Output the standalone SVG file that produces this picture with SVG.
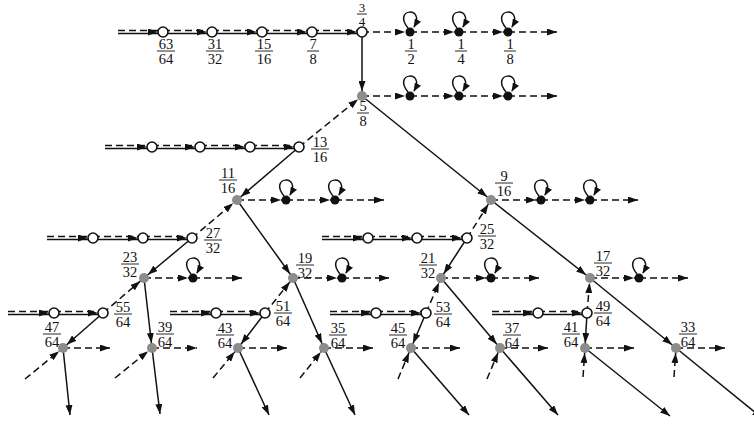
<svg xmlns="http://www.w3.org/2000/svg" width="754" height="424" viewBox="0 0 754 424">
<style>
.s{fill:none;stroke:#111;stroke-width:1.5}
.d{fill:none;stroke:#111;stroke-width:1.5;stroke-dasharray:7,4}
.o{fill:#fff;stroke:#111;stroke-width:1.6}
.g{fill:#8c8c8c}
.b{fill:#111}
.f text{font-family:"Liberation Serif",serif;font-size:14.5px;fill:#111;text-anchor:middle}
.f line{stroke:#111;stroke-width:0.9}
</style>
<defs>
<marker id="a" viewBox="0 0 10 7" refX="15" refY="3.5" markerWidth="10" markerHeight="7" markerUnits="userSpaceOnUse" orient="auto"><path d="M0,0L10,3.5L0,7z" fill="#111"/></marker>
<marker id="e" viewBox="0 0 10 7" refX="10" refY="3.5" markerWidth="10" markerHeight="7" markerUnits="userSpaceOnUse" orient="auto"><path d="M0,0L10,3.5L0,7z" fill="#111"/></marker>
<marker id="m" viewBox="0 0 10 7" refX="15" refY="2" markerWidth="10" markerHeight="7" markerUnits="userSpaceOnUse" orient="auto"><path d="M0,0L10,3.5L0,7z" fill="#111"/></marker>
<marker id="l" viewBox="0 0 9 7" refX="8" refY="3.5" markerWidth="9" markerHeight="7" markerUnits="userSpaceOnUse" orient="auto"><path d="M0,0L9,3.5L0,7z" fill="#111"/></marker>
</defs>

<g id="connectors">
<path class="s" d="M118,33.5H362M105,148.5H299M47,239.5H192M8,314.5H103M170,314.5H265M322,239.5H467M330,314.5H426M492,314.5H587"/>
<g class="d" marker-end="url(#m)">
<path d="M118,30.5H163"/><path d="M163,30.5H212"/><path d="M212,30.5H262"/><path d="M262,30.5H312"/><path d="M312,30.5H362"/>
<path d="M105,145.5H152"/><path d="M152,145.5H200"/><path d="M200,145.5H250"/><path d="M250,145.5H299"/>
<path d="M47,236.5H93"/><path d="M93,236.5H143"/><path d="M143,236.5H192"/>
<path d="M8,311.5H54"/><path d="M54,311.5H103"/>
<path d="M170,311.5H216"/><path d="M216,311.5H265"/>
<path d="M322,236.5H368"/><path d="M368,236.5H417"/><path d="M417,236.5H467"/>
<path d="M330,311.5H376"/><path d="M376,311.5H426"/>
<path d="M492,311.5H538"/><path d="M538,311.5H587"/>
</g>
<g class="d" marker-end="url(#a)">
<path d="M362,32H410"/><path d="M410,32H459"/><path d="M459,32H508"/>
<path d="M362,96H410"/><path d="M410,96H459"/><path d="M459,96H508"/>
<path d="M237,200H286"/><path d="M286,200H335"/>
<path d="M491,200H541"/><path d="M541,200H590"/>
<path d="M144,278H193"/>
<path d="M293,278H342"/>
<path d="M441,278H491"/>
<path d="M590,278H639"/>
</g>
<g class="d" marker-end="url(#e)">
<path d="M508,32H557"/><path d="M508,96H557"/>
<path d="M335,200H384"/><path d="M590,200H638"/>
<path d="M193,278H242"/><path d="M342,278H389"/><path d="M491,278H539"/><path d="M639,278H688"/>
<path d="M63,348H110"/><path d="M152,348H197"/><path d="M238,348H287"/><path d="M324,348H373"/>
<path d="M411,348H460"/><path d="M500,348H548"/><path d="M585,348H634"/><path d="M676,348H725"/>
</g>
<g class="d" marker-end="url(#a)">
<path d="M299,147L362,96"/>
<path d="M192,238L237,200"/>
<path d="M103,313L144,278"/>
<path d="M265,313L293,278"/>
<path d="M467,238L491,200"/>
<path d="M426,313L441,278"/>
<path d="M587,313L590,278"/>
<path d="M25,379L63,348"/>
<path d="M115,378L152,348"/>
<path d="M213,378L238,348"/>
<path d="M300,378L324,348"/>
<path d="M398,379L411,348"/>
<path d="M487,379L500,348"/>
<path d="M583,377L585,348"/>
<path d="M674,377L676,348"/>
</g>
<g class="s" marker-end="url(#a)">
<path d="M362,32V96"/>
<path d="M362,96L491,200"/>
<path d="M299,147L237,200"/>
<path d="M237,200L293,278"/>
<path d="M192,238L144,278"/>
<path d="M144,278L152,348"/>
<path d="M103,313L63,348"/>
<path d="M265,313L238,348"/>
<path d="M293,278L324,348"/>
<path d="M467,238L441,278"/>
<path d="M491,200L590,278"/>
<path d="M426,313L411,348"/>
<path d="M441,278L500,348"/>
<path d="M587,313L585,348"/>
<path d="M590,278L676,348"/>
</g>
<g class="s" marker-end="url(#e)">
<path d="M63,348L70,415"/>
<path d="M152,348L160,414"/>
<path d="M238,348L269,415"/>
<path d="M324,348L355,415"/>
<path d="M411,348L469,415"/>
<path d="M500,348L558,415"/>
<path d="M585,348L670,416"/>
<path d="M676,348L762,418"/>
</g>
<g class="s" marker-end="url(#l)">
<path d="M408,28C392,8 426,6 414,27"/>
<path d="M457,28C441,8 475,6 463,27"/>
<path d="M506,28C490,8 524,6 512,27"/>
<path d="M408,92C392,72 426,70 414,91"/>
<path d="M457,92C441,72 475,70 463,91"/>
<path d="M506,92C490,72 524,70 512,91"/>
<path d="M284,196C268,176 302,174 290,195"/>
<path d="M333,196C317,176 351,174 339,195"/>
<path d="M539,196C523,176 557,174 545,195"/>
<path d="M588,196C572,176 606,174 594,195"/>
<path d="M191,274C175,254 209,252 197,273"/>
<path d="M340,274C324,254 358,252 346,273"/>
<path d="M489,274C473,254 507,252 495,273"/>
<path d="M637,274C621,254 655,252 643,273"/>
</g>
</g>

<g id="n63_64"><circle class="o" cx="163" cy="32" r="5"/><g class="f"><text x="166" y="48.5">63</text><line x1="157" y1="51" x2="175" y2="51"/><text x="166" y="63.5">64</text></g></g>
<g id="n31_32"><circle class="o" cx="212" cy="32" r="5"/><g class="f"><text x="215" y="48.5">31</text><line x1="206" y1="51" x2="224" y2="51"/><text x="215" y="63.5">32</text></g></g>
<g id="n15_16"><circle class="o" cx="262" cy="32" r="5"/><g class="f"><text x="264" y="48.5">15</text><line x1="255" y1="51" x2="273" y2="51"/><text x="264" y="63.5">16</text></g></g>
<g id="n7_8"><circle class="o" cx="312" cy="32" r="5"/><g class="f"><text x="313" y="48.5">7</text><line x1="307" y1="51" x2="319" y2="51"/><text x="313" y="63.5">8</text></g></g>
<g id="n3_4"><circle class="o" cx="362" cy="32" r="5"/><g class="f"><text x="362" y="12" style="font-size:13px">3</text><line x1="357" y1="14" x2="367" y2="14"/><text x="362" y="25.5" style="font-size:13px">4</text></g></g>

<g id="nr13_16"><circle class="o" cx="152" cy="147" r="5"/><circle class="o" cx="200" cy="147" r="5"/><circle class="o" cx="250" cy="147" r="5"/></g>
<g id="n13_16"><circle class="o" cx="299" cy="147" r="5"/><g class="f"><text x="320" y="146.5">13</text><line x1="311" y1="149" x2="329" y2="149"/><text x="320" y="161.5">16</text></g></g>
<g id="nr27_32"><circle class="o" cx="93" cy="238" r="5"/><circle class="o" cx="143" cy="238" r="5"/></g>
<g id="n27_32"><circle class="o" cx="192" cy="238" r="5"/><g class="f"><text x="213" y="237.5">27</text><line x1="204" y1="240" x2="222" y2="240"/><text x="213" y="252.5">32</text></g></g>
<g id="nr55_64"><circle class="o" cx="54" cy="313" r="5"/></g>
<g id="n55_64"><circle class="o" cx="103" cy="313" r="5"/><g class="f"><text x="123" y="311.5">55</text><line x1="114" y1="314" x2="132" y2="314"/><text x="123" y="326.5">64</text></g></g>
<g id="nr51_64"><circle class="o" cx="216" cy="313" r="5"/></g>
<g id="n51_64"><circle class="o" cx="265" cy="313" r="5"/><g class="f"><text x="283" y="310.5">51</text><line x1="274" y1="313" x2="292" y2="313"/><text x="283" y="325.5">64</text></g></g>
<g id="nr25_32"><circle class="o" cx="368" cy="238" r="5"/><circle class="o" cx="417" cy="238" r="5"/></g>
<g id="n25_32"><circle class="o" cx="467" cy="238" r="5"/><g class="f"><text x="487" y="233.5">25</text><line x1="478" y1="236" x2="496" y2="236"/><text x="487" y="248.5">32</text></g></g>
<g id="nr53_64"><circle class="o" cx="376" cy="313" r="5"/></g>
<g id="n53_64"><circle class="o" cx="426" cy="313" r="5"/><g class="f"><text x="443" y="311.5">53</text><line x1="434" y1="314" x2="452" y2="314"/><text x="443" y="326.5">64</text></g></g>
<g id="nr49_64"><circle class="o" cx="538" cy="313" r="5"/></g>
<g id="n49_64"><circle class="o" cx="587" cy="313" r="5"/><g class="f"><text x="603" y="310.5">49</text><line x1="594" y1="313" x2="612" y2="313"/><text x="603" y="325.5">64</text></g></g>

<g id="n5_8"><circle class="g" cx="362" cy="96" r="5"/><g class="f"><text x="363" y="110.5">5</text><line x1="357" y1="113" x2="369" y2="113"/><text x="363" y="125.5">8</text></g></g>
<g id="n11_16"><circle class="g" cx="237" cy="200" r="5"/><g class="f"><text x="228" y="177.5">11</text><line x1="219" y1="180" x2="237" y2="180"/><text x="228" y="192.5">16</text></g></g>
<g id="n9_16"><circle class="g" cx="491" cy="200" r="5"/><g class="f"><text x="504" y="180.5">9</text><line x1="495" y1="183" x2="513" y2="183"/><text x="504" y="195.5">16</text></g></g>
<g id="n23_32"><circle class="g" cx="144" cy="278" r="5"/><g class="f"><text x="130" y="261.5">23</text><line x1="121" y1="264" x2="139" y2="264"/><text x="130" y="276.5">32</text></g></g>
<g id="n19_32"><circle class="g" cx="293" cy="278" r="5"/><g class="f"><text x="305" y="262.5">19</text><line x1="296" y1="265" x2="314" y2="265"/><text x="305" y="277.5">32</text></g></g>
<g id="n21_32"><circle class="g" cx="441" cy="278" r="5"/><g class="f"><text x="428" y="262.5">21</text><line x1="419" y1="265" x2="437" y2="265"/><text x="428" y="277.5">32</text></g></g>
<g id="n17_32"><circle class="g" cx="590" cy="278" r="5"/><g class="f"><text x="603" y="260.5">17</text><line x1="594" y1="263" x2="612" y2="263"/><text x="603" y="275.5">32</text></g></g>
<g id="n47_64"><circle class="g" cx="63" cy="348" r="5"/><g class="f"><text x="52" y="331.5">47</text><line x1="43" y1="334" x2="61" y2="334"/><text x="52" y="346.5">64</text></g></g>
<g id="n39_64"><circle class="g" cx="152" cy="348" r="5"/><g class="f"><text x="165" y="331.5">39</text><line x1="156" y1="334" x2="174" y2="334"/><text x="165" y="346.5">64</text></g></g>
<g id="n43_64"><circle class="g" cx="238" cy="348" r="5"/><g class="f"><text x="225" y="332.5">43</text><line x1="216" y1="335" x2="234" y2="335"/><text x="225" y="347.5">64</text></g></g>
<g id="n35_64"><circle class="g" cx="324" cy="348" r="5"/><g class="f"><text x="338" y="332.5">35</text><line x1="329" y1="335" x2="347" y2="335"/><text x="338" y="347.5">64</text></g></g>
<g id="n45_64"><circle class="g" cx="411" cy="348" r="5"/><g class="f"><text x="398" y="332.5">45</text><line x1="389" y1="335" x2="407" y2="335"/><text x="398" y="347.5">64</text></g></g>
<g id="n37_64"><circle class="g" cx="500" cy="348" r="5"/><g class="f"><text x="512" y="332.5">37</text><line x1="503" y1="335" x2="521" y2="335"/><text x="512" y="347.5">64</text></g></g>
<g id="n41_64"><circle class="g" cx="585" cy="348" r="5"/><g class="f"><text x="571" y="331.5">41</text><line x1="562" y1="334" x2="580" y2="334"/><text x="571" y="346.5">64</text></g></g>
<g id="n33_64"><circle class="g" cx="676" cy="348" r="5"/><g class="f"><text x="688" y="331.5">33</text><line x1="679" y1="334" x2="697" y2="334"/><text x="688" y="346.5">64</text></g></g>

<g id="n1_2"><circle class="b" cx="410" cy="32" r="4.5"/><g class="f"><text x="411" y="48.5">1</text><line x1="405" y1="51" x2="417" y2="51"/><text x="411" y="63.5">2</text></g></g>
<g id="n1_4"><circle class="b" cx="459" cy="32" r="4.5"/><g class="f"><text x="461" y="48.5">1</text><line x1="455" y1="51" x2="467" y2="51"/><text x="461" y="63.5">4</text></g></g>
<g id="n1_8"><circle class="b" cx="508" cy="32" r="4.5"/><g class="f"><text x="510" y="48.5">1</text><line x1="504" y1="51" x2="516" y2="51"/><text x="510" y="63.5">8</text></g></g>
<g id="nb96"><circle class="b" cx="410" cy="96" r="4.5"/><circle class="b" cx="459" cy="96" r="4.5"/><circle class="b" cx="508" cy="96" r="4.5"/></g>
<g id="nb200a"><circle class="b" cx="286" cy="200" r="4.5"/><circle class="b" cx="335" cy="200" r="4.5"/></g>
<g id="nb200b"><circle class="b" cx="541" cy="200" r="4.5"/><circle class="b" cx="590" cy="200" r="4.5"/></g>
<g id="nb278"><circle class="b" cx="193" cy="278" r="4.5"/><circle class="b" cx="342" cy="278" r="4.5"/><circle class="b" cx="491" cy="278" r="4.5"/><circle class="b" cx="639" cy="278" r="4.5"/></g>
</svg>
